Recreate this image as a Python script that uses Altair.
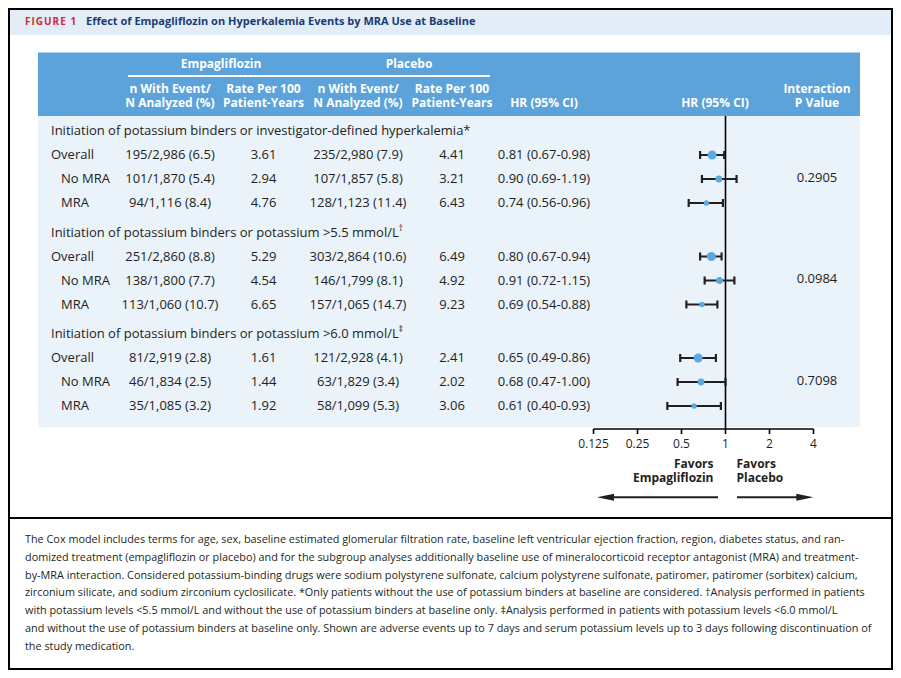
import altair as alt
import pandas as pd

# ---------------- data ----------------
sections = [
    "Initiation of potassium binders or investigator-defined hyperkalemia*",
    "Initiation of potassium binders or potassium >5.5 mmol/L",
    "Initiation of potassium binders or potassium >6.0 mmol/L",
]
section_marks = ["", "\u2020", "\u2021"]
subgroups = ["Overall", "No MRA", "MRA"]

empa_events = [195, 101, 94, 251, 138, 113, 81, 46, 35]
empa_n = [2986, 1870, 1116, 2860, 1800, 1060, 2919, 1834, 1085]
empa_pct = [6.5, 5.4, 8.4, 8.8, 7.7, 10.7, 2.8, 2.5, 3.2]
empa_rate = [3.61, 2.94, 4.76, 5.29, 4.54, 6.65, 1.61, 1.44, 1.92]
pbo_events = [235, 107, 128, 303, 146, 157, 121, 63, 58]
pbo_n = [2980, 1857, 1123, 2864, 1799, 1065, 2928, 1829, 1099]
pbo_pct = [7.9, 5.8, 11.4, 10.6, 8.1, 14.7, 4.1, 3.4, 5.3]
pbo_rate = [4.41, 3.21, 6.43, 6.49, 4.92, 9.23, 2.41, 2.02, 3.06]
hr = [0.81, 0.90, 0.74, 0.80, 0.91, 0.69, 0.65, 0.68, 0.61]
hr_lo = [0.67, 0.69, 0.56, 0.67, 0.72, 0.54, 0.49, 0.47, 0.40]
hr_hi = [0.98, 1.19, 0.96, 0.94, 1.15, 0.88, 0.86, 1.00, 0.93]
p_interaction = ["0.2905", "0.0984", "0.7098"]

axis_ticks = [0.125, 0.25, 0.5, 1, 2, 4]
axis_labels = ["0.125", "0.25", "0.5", "1", "2", "4"]

title_tag = "F\u200aI\u200aG\u200aU\u200aR\u200aE\u200a \u200a1"
title_text = "Effect of Empagliflozin on Hyperkalemia Events by MRA Use at Baseline"
group_headers = ["Empagliflozin", "Placebo"]
col_headers = ["n With Event/\nN Analyzed (%)", "Rate Per 100\nPatient-Years",
               "n With Event/\nN Analyzed (%)", "Rate Per 100\nPatient-Years",
               "HR (95% CI)", "HR (95% CI)", "Interaction\nP Value"]
favors_left = "Favors\nEmpagliflozin"
favors_right = "Favors\nPlacebo"

footnote = [
    "The Cox model includes terms for age, sex, baseline estimated glomerular filtration rate, baseline left ventricular ejection fraction, region, diabetes status, and ran-",
    "domized treatment (empagliflozin or placebo) and for the subgroup analyses additionally baseline use of mineralocorticoid receptor antagonist (MRA) and treatment-",
    "by-MRA interaction. Considered potassium-binding drugs were sodium polystyrene sulfonate, calcium polystyrene sulfonate, patiromer, patiromer (sorbitex) calcium,",
    "zirconium silicate, and sodium zirconium cyclosilicate. *Only patients without the use of potassium binders at baseline are considered. \u2020Analysis performed in patients",
    "with potassium levels <5.5 mmol/L and without the use of potassium binders at baseline only. \u2021Analysis performed in patients with potassium levels <6.0 mmol/L",
    "and without the use of potassium binders at baseline only. Shown are adverse events up to 7 days and serum potassium levels up to 3 days following discontinuation of",
    "the study medication.",
]

# ---------------- layout ----------------
W, H = 885, 662
FONT = "Open Sans"
INK = "#231f20"
SEC_Y = [123, 224.5, 326]
ROW_DY = [24, 48, 72]
LABEL_X = [43, 53, 53]
COL_X = [162, 255.5, 350, 444, 536, 707, 809]
GROUP_X = [213, 401]
SIZE_BY_GROUP = [80, 46, 28]
MARK_X = 390.5

px = alt.Scale(domain=[0, W], range=[0, W])
py = alt.Scale(domain=[0, H], range=[0, H])
hrx = alt.Scale(type="log", base=2, domain=[0.125, 4], range=[585.5, 805.5])


def X(f="x"):
    return alt.X(f"{f}:Q", scale=px, axis=None)


def Y(f="y"):
    return alt.Y(f"{f}:Q", scale=py, axis=None)


def text_layer(rows, **kw):
    base = dict(font=FONT, fontSize=13, color=INK, baseline="middle", align="left")
    base.update(kw)
    return alt.Chart(pd.DataFrame(rows)).mark_text(**base).encode(x=X(), y=Y(), text="t:N")


# rows table
rows = []
for s in range(3):
    for g in range(3):
        i = s * 3 + g
        rows.append(dict(
            sec=s, grp=g, y=SEC_Y[s] + ROW_DY[g],
            label=subgroups[g], lx=LABEL_X[g],
            en=f"{empa_events[i]}/{empa_n[i]:,} ({empa_pct[i]:.1f})",
            er=f"{empa_rate[i]:.2f}",
            pn=f"{pbo_events[i]}/{pbo_n[i]:,} ({pbo_pct[i]:.1f})",
            pr=f"{pbo_rate[i]:.2f}",
            hrt=f"{hr[i]:.2f} ({hr_lo[i]:.2f}-{hr_hi[i]:.2f})",
            hr=hr[i], lo=hr_lo[i], hi=hr_hi[i], size=SIZE_BY_GROUP[g],
        ))
tbl = pd.DataFrame(rows)

# backgrounds
bands = pd.DataFrame([
    dict(x=0, x2=W, y=0, y2=27, c="#e3edf7"),
    dict(x=30, x2=852, y=44.5, y2=108, c="#5ba3da"),
    dict(x=30, x2=852, y=108, y2=419, c="#eaf2fa"),
])
band_layer = alt.Chart(bands).mark_rect().encode(
    x=X(), x2="x2:Q", y=Y(), y2="y2:Q", color=alt.Color("c:N", scale=None))

border = alt.Chart(pd.DataFrame([dict(x=1, x2=W - 1, y=1, y2=H - 1)])).mark_rect(
    fillOpacity=0, stroke="black", strokeWidth=2).encode(x=X(), x2="x2:Q", y=Y(), y2="y2:Q")

sep = alt.Chart(pd.DataFrame([dict(x=0, x2=W, y=510)])).mark_rule(
    color="black", strokeWidth=2).encode(x=X(), x2="x2:Q", y=Y())

underline = alt.Chart(pd.DataFrame([dict(x=120, x2=482, y=68)])).mark_rule(
    color="white", strokeWidth=2).encode(x=X(), x2="x2:Q", y=Y())

# title
title_l1 = text_layer([dict(x=17, y=13.5, t=title_tag)], fontSize=10, fontWeight="bold", color="#d12a33")
title_l2 = text_layer([dict(x=78, y=13.5, t=title_text)], fontSize=11, fontWeight="bold", color="#1a3c73")

# header (y = first line)
grp_hdr = text_layer([dict(x=GROUP_X[k], y=56, t=group_headers[k]) for k in range(2)],
                     fontSize=12, fontWeight="bold", color="white", align="center")
hdr_rows = [dict(x=COL_X[k], y=(81 if "\n" in col_headers[k] else 95), t=col_headers[k]) for k in range(7)]
hdr = text_layer(hdr_rows, fontSize=12, fontWeight="bold", color="white", align="center",
                 lineBreak="\n", lineHeight=14)

# section headers
sec_layer = text_layer([dict(x=43, y=SEC_Y[s], t=sections[s]) for s in range(3)])
mark_layer = text_layer([dict(x=MARK_X, y=SEC_Y[s] - 5, t=section_marks[s]) for s in range(3) if section_marks[s]],
                        fontSize=9)

# row labels and columns
lab_layer = alt.Chart(tbl).mark_text(font=FONT, fontSize=13, color=INK, baseline="middle", align="left").encode(
    x=X("lx"), y=Y(), text="label:N")
col_layers = []
for k, f in enumerate(["en", "er", "pn", "pr", "hrt"]):
    col_layers.append(alt.Chart(tbl).transform_calculate(cx=str(COL_X[k])).mark_text(
        font=FONT, fontSize=13, color=INK, baseline="middle", align="center").encode(
        x=X("cx"), y=Y(), text=f"{f}:N"))

pv_layer = text_layer([dict(x=COL_X[6], y=SEC_Y[s] + ROW_DY[1] - 1.5, t=p_interaction[s]) for s in range(3)],
                      align="center")

# forest plot
HX = lambda f: alt.X(f"{f}:Q", scale=hrx, axis=None)
ref_line = alt.Chart(pd.DataFrame([dict(v=1, y=108, y2=421)])).mark_rule(
    color="black", strokeWidth=1.6).encode(x=HX("v"), y=Y(), y2="y2:Q")
axis_line = alt.Chart(pd.DataFrame([dict(a=axis_ticks[0], b=axis_ticks[-1], y=421)])).mark_rule(
    color="black", strokeWidth=1.6).encode(x=HX("a"), x2="b:Q", y=Y())
tick_df = pd.DataFrame(dict(v=axis_ticks, t=axis_labels, y=[421] * 6, y2=[426] * 6, ly=[436] * 6))
tick_layer = alt.Chart(tick_df).mark_rule(color="black", strokeWidth=1.6).encode(
    x=HX("v"), y=Y(), y2="y2:Q")
tick_lab = alt.Chart(tick_df).mark_text(font=FONT, fontSize=12, color=INK, baseline="middle").encode(
    x=HX("v"), y=Y("ly"), text="t:N")

ci = alt.Chart(tbl).mark_rule(color=INK, strokeWidth=2).encode(x=HX("lo"), x2="hi:Q", y=Y())
cap_lo = alt.Chart(tbl).mark_point(shape="M0,-1L0,1", size=64, color=INK, strokeWidth=2.2, opacity=1).encode(
    x=HX("lo"), y=Y())
cap_hi = alt.Chart(tbl).mark_point(shape="M0,-1L0,1", size=64, color=INK, strokeWidth=2.2, opacity=1).encode(
    x=HX("hi"), y=Y())
pts = alt.Chart(tbl).mark_circle(color="#5aa9e0", opacity=1).encode(
    x=HX("hr"), y=Y(), size=alt.Size("size:Q", scale=None))

# favors (y = first line)
fav_l = text_layer([dict(x=705.5, y=455.5, t=favors_left)],
                   fontSize=12, fontWeight="bold", align="right", lineBreak="\n", lineHeight=14)
fav_r = text_layer([dict(x=728.5, y=455.5, t=favors_right)],
                   fontSize=12, fontWeight="bold", align="left", lineBreak="\n", lineHeight=14)
arrow_lines = alt.Chart(pd.DataFrame([dict(x=596, x2=710, y=489.3), dict(x=729, x2=797, y=489.3)])).mark_rule(
    color=INK, strokeWidth=2).encode(x=X(), x2="x2:Q", y=Y())
head_l = alt.Chart(pd.DataFrame([dict(x=597.5, y=489.3)])).mark_point(
    shape="M-1,0L1,-0.42L1,0.42Z", size=289, filled=True, color=INK, opacity=1, strokeWidth=0).encode(x=X(), y=Y())
head_r = alt.Chart(pd.DataFrame([dict(x=796.8, y=489.3)])).mark_point(
    shape="M1,0L-1,-0.42L-1,0.42Z", size=289, filled=True, color=INK, opacity=1, strokeWidth=0).encode(x=X(), y=Y())

# footnote
foot = text_layer([dict(x=17, y=532 + i * 17.8, t=line) for i, line in enumerate(footnote)], fontSize=10.85)

chart = alt.layer(
    band_layer, border, sep, underline, title_l1, title_l2, grp_hdr, hdr,
    sec_layer, mark_layer, lab_layer, *col_layers, pv_layer,
    ref_line, axis_line, tick_layer, tick_lab, ci, cap_lo, cap_hi, pts,
    fav_l, fav_r, arrow_lines, head_l, head_r, foot,
).resolve_scale(x="independent").properties(
    width=W, height=H, padding=0, autosize=alt.AutoSizeParams(type="none"), background="white"
).configure_view(strokeWidth=0)

chart.save("out.html", embed_options={"renderer": "svg", "actions": False})
